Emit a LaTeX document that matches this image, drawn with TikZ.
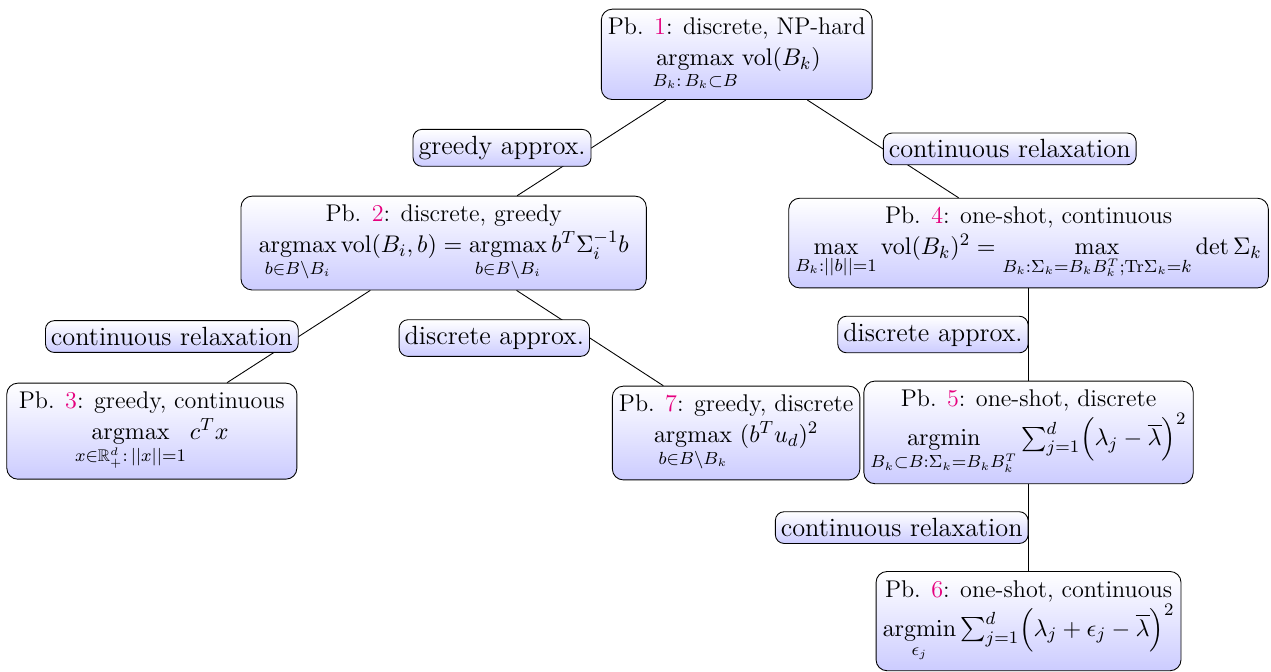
\documentclass[tikz,border=0pt]{standalone}
\usepackage{amsmath,amssymb}
\usepackage{tikz}

\definecolor{refpink}{RGB}{230,0,126}
\DeclareMathOperator*{\argmax}{argmax}
\DeclareMathOperator*{\argmin}{argmin}
\newcommand{\pbref}[1]{\textcolor{refpink}{#1}}

\tikzset{
  pb/.style={draw, rounded corners=5pt, top color=white, bottom color=blue!20,
    align=center, inner xsep=3pt, inner ysep=4pt, font=\fontsize{11}{14}\selectfont},
  lbl/.style={draw, rounded corners=4pt, top color=white, bottom color=blue!20,
    inner xsep=2.5pt, inner ysep=3pt, midway, font=\fontsize{12}{14}\selectfont},
}

\begin{document}
\begin{tikzpicture}
\useasboundingbox (0,0) rectangle (20.34,10.74);
% problems
\node[pb] (p1) at (11.79,9.87) {Pb. \pbref{1}: discrete, NP-hard\\
  $\argmax\limits_{B_k:\,B_k\subset B} \mathrm{vol}(B_k)$};
\node[pb, inner xsep=8pt] (p2) at (7.10,6.85) {Pb. \pbref{2}: discrete, greedy\\
  $\argmax\limits_{b\in B\setminus B_i} \mathrm{vol}(B_i,b) = \argmax\limits_{b\in B\setminus B_i} b^T\Sigma_i^{-1}b$};
\node[pb] (p4) at (16.46,6.85) {Pb. \pbref{4}: one-shot, continuous\\
  $\max\limits_{B_k:||b||=1} \mathrm{vol}(B_k)^2 = \max\limits_{B_k:\Sigma_k=B_kB_k^T;\mathrm{Tr}\Sigma_k=k} \det\Sigma_k$};
\node[pb, inner xsep=5.5pt] (p3) at (2.43,3.84) {Pb. \pbref{3}: greedy, continuous\\
  $\argmax\limits_{x\in\mathbb{R}^d_+:\,||x||=1} c^Tx$};
\node[pb] (p7) at (11.78,3.81) {Pb. \pbref{7}: greedy, discrete\\
  $\argmax\limits_{b\in B\setminus B_k}\ (b^Tu_d)^2$};
\node[pb] (p5) at (16.46,3.82) {Pb. \pbref{5}: one-shot, discrete\\
  $\argmin\limits_{B_k\subset B:\Sigma_k=B_kB_k^T} \sum_{j=1}^d\Bigl(\lambda_j-\overline{\lambda}\Bigr)^2$};
\node[pb] (p6) at (16.46,0.80) {Pb. \pbref{6}: one-shot, continuous\\
  $\argmin\limits_{\epsilon_j}\sum_{j=1}^d\Bigl(\lambda_j+\epsilon_j-\overline{\lambda}\Bigr)^2$};
% relations
\draw (p1) -- node[lbl,left] {greedy approx.} (p2);
\draw (p1) -- node[lbl,right] {continuous relaxation} (p4);
\draw (p2) -- node[lbl,left] {continuous relaxation} (p3);
\draw (p2) -- node[lbl,left] {discrete approx.} (p7);
\draw (p4) -- node[lbl,left] {discrete approx.} (p5);
\draw (p5) -- node[lbl,left] {continuous relaxation} (p6);
\end{tikzpicture}
\end{document}
